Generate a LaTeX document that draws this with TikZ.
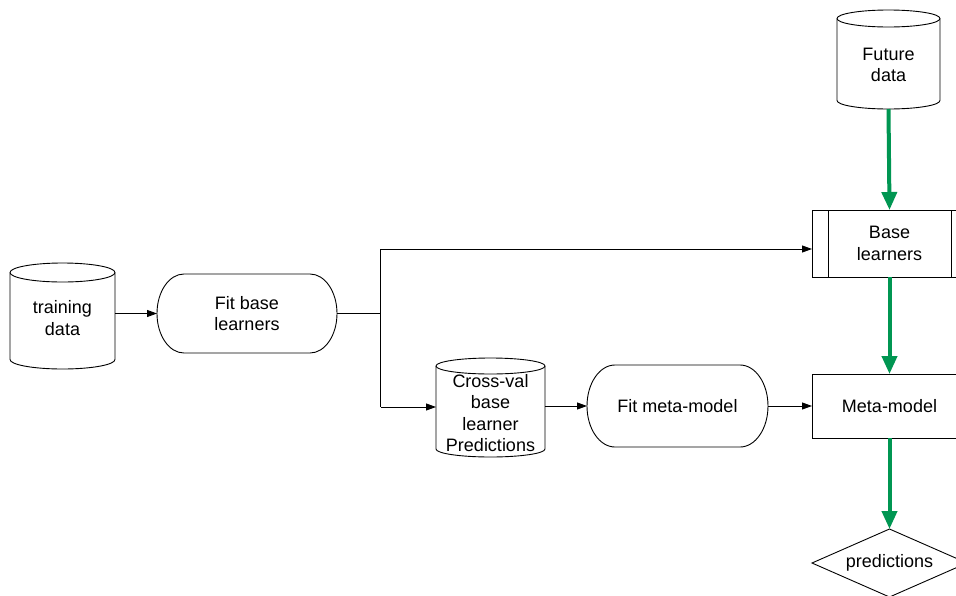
\documentclass[tikz,border=0pt]{standalone}
\usepackage{fontspec}
\setmainfont{Liberation Sans}
\usetikzlibrary{arrows.meta,shapes.geometric,calc}
\definecolor{flowgreen}{RGB}{0,150,82}
\tikzset{
  box/.style={draw=none,inner sep=0pt,outer sep=0pt},
  txt/.style={align=center,inner sep=0pt,font=\fontsize{18}{21.5}\selectfont},
  arr/.style={draw=black,line width=0.9pt,-{Triangle[length=10pt,width=7pt]}},
  garr/.style={draw=flowgreen,line width=4pt,-{Triangle[length=18pt,width=15pt]}},
  edge/.style={draw=black,line width=0.9pt},
}
% cylinder outline for a named box node: #1 name, #2 ellipse x radius, #3 ellipse y radius
\newcommand{\mycyl}[3]{%
  \draw[line width=0.9pt,fill=white] ([yshift=-#3]#1.north west) -- ([yshift=#3]#1.south west)
     arc[start angle=180,end angle=360,x radius=#2,y radius=#3]
     -- ([yshift=-#3]#1.north east)
     arc[start angle=0,end angle=180,x radius=#2,y radius=#3] -- cycle;
  \draw[line width=0.9pt] ([yshift=-#3]#1.north west)
     arc[start angle=180,end angle=360,x radius=#2,y radius=#3];
}
% stadium with elliptical ends: #1 name, #2 end x radius, #3 half height
\newcommand{\mystad}[3]{%
  \draw[line width=0.9pt] ([xshift=#2]#1.north west) -- ([xshift=-#2]#1.north east)
     arc[start angle=90,end angle=-90,x radius=#2,y radius=#3]
     -- ([xshift=#2]#1.south west)
     arc[start angle=270,end angle=90,x radius=#2,y radius=#3] -- cycle;
}
\begin{document}
\begin{tikzpicture}[x=1pt,y=-1pt]
\clip (0,0) rectangle (956,595);
\fill[white] (0,0) rectangle (956,595);

% training data cylinder
\node[box,minimum width=105pt,minimum height=106pt] (train) at (62.5,316) {};
\mycyl{train}{52.5pt}{9.5pt}
\node[txt] (traint) at (62.5,318) {training\\data};

% Fit base learners
\node[box,minimum width=180pt,minimum height=79pt] (fit) at (247,313.5) {};
\mystad{fit}{27pt}{39.5pt}
\node[txt] (fitt) at (247,313.5) {Fit base\\learners};

% Future data
\node[box,minimum width=103pt,minimum height=99pt] (future) at (888.5,59.5) {};
\mycyl{future}{51.5pt}{8.5pt}
\node[txt] (futuret) at (888.5,65) {Future\\data};

% Base learners (process box)
\node[box,draw=black,line width=0.9pt,minimum width=155pt,minimum height=67pt] (base) at (889.5,243.5) {};
\draw[line width=0.9pt] ([xshift=16pt]base.north west) -- ([xshift=16pt]base.south west);
\draw[line width=0.9pt] ([xshift=-16pt]base.north east) -- ([xshift=-16pt]base.south east);
\node[txt] (baset) at (889.5,243.5) {Base\\learners};

% Cross-val predictions cylinder
\node[box,minimum width=109pt,minimum height=99pt] (cv) at (490.5,407.5) {};
\mycyl{cv}{54.5pt}{8pt}
\node[txt] (cvt) at (490.5,413) {Cross-val\\base\\learner\\Predictions};

% Fit meta-model
\node[box,minimum width=181pt,minimum height=82pt] (fitm) at (677.5,406) {};
\mystad{fitm}{28pt}{41pt}
\node[txt] (fitmt) at (677.5,406) {Fit meta-model};

% Meta-model
\node[box,draw=black,line width=0.9pt,minimum width=155pt,minimum height=64pt] (meta) at (889.5,406) {};
\node[txt] (metat) at (889.5,406) {Meta-model};

% predictions diamond
\draw[line width=0.9pt] (889.5,529) -- (967,563) -- (889.5,597) -- (812,563) -- cycle;
\node[box,minimum width=155pt,minimum height=68pt] (pred) at (889.5,563) {};
\node[txt] (predt) at (889.5,563) {predictions};

% connectors
\draw[arr] (train.east |- fit.west) -- (fit.west);
\coordinate (jm) at (380.5,313.5);
\coordinate (jt) at (380.5,249);
\coordinate (jb) at (380.5,407);
\draw[edge] (fit.east) -- (jm);
\draw[edge] (jt) -- (jb);
\draw[arr] (jt) -- (jt -| base.west);
\draw[arr] (jb) -- (jb -| cv.west);
\draw[arr] (cv.east |- fitm.west) -- (fitm.west);
\draw[arr] (fitm.east) -- (meta.west);

\draw[garr] (future.south) -- (base.north);
\draw[garr] (base.south) -- (meta.north);
\draw[garr] (meta.south) -- (pred.north);
\end{tikzpicture}
\end{document}
